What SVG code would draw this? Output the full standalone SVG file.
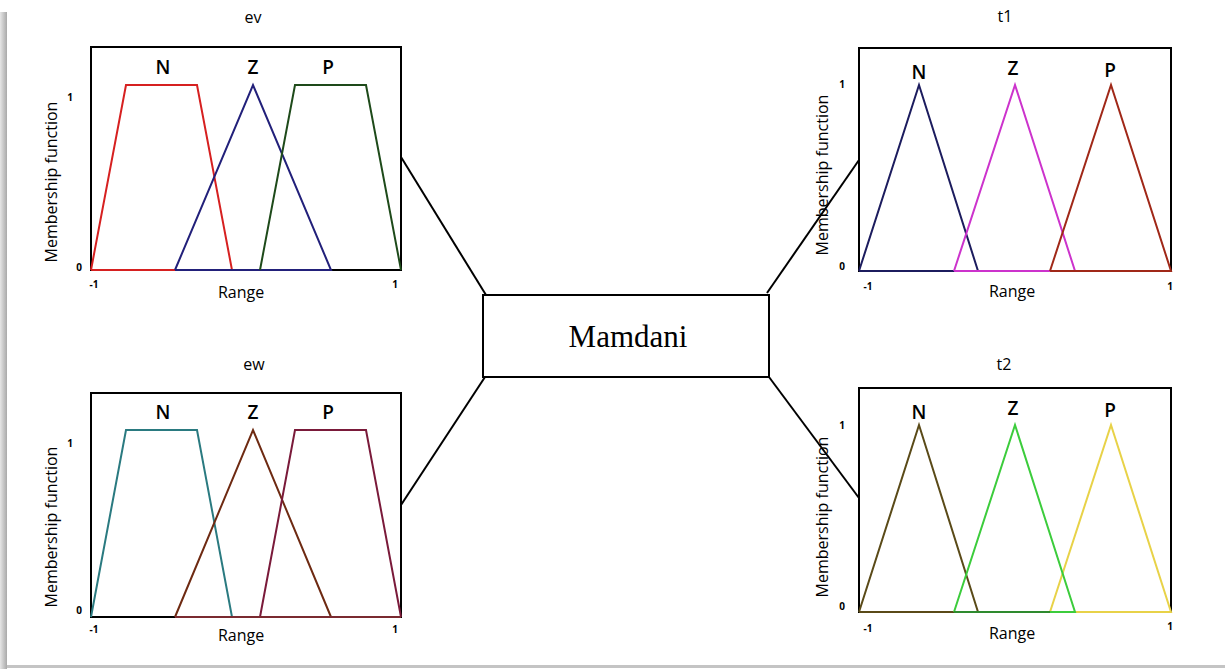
<svg xmlns="http://www.w3.org/2000/svg" width="1225" height="669" viewBox="0 0 1225 669">
  <defs>
    <linearGradient id="edgeShade" x1="0" y1="0" x2="1" y2="0">
      <stop offset="0" stop-color="#e6e6e6"/>
      <stop offset="1" stop-color="#a9a9a9"/>
    </linearGradient>
    <style>
      .frame { fill: none; stroke: #000; stroke-width: 2; }
      .mf { fill: none; stroke-width: 2; stroke-linejoin: miter; }
      .title { font-family: "Open Sans", "Liberation Sans", sans-serif; font-size: 16px; fill: #000; text-anchor: middle; }
      .term { font-family: "Open Sans", "Liberation Sans", sans-serif; font-size: 19px; font-weight: 600; fill: #000; text-anchor: middle; }
      .axis { font-family: "Open Sans", "Liberation Sans", sans-serif; font-size: 16px; fill: #000; text-anchor: middle; }
      .tick { font-family: "Open Sans", "Liberation Sans", sans-serif; font-size: 10px; font-weight: 700; fill: #000; text-anchor: middle; }
      .link { stroke: #000; stroke-width: 2; fill: none; }
      .core { fill: #fff; stroke: #000; stroke-width: 2; }
      .coreText { font-family: "Liberation Serif", "Times New Roman", serif; font-size: 31px; fill: #000; text-anchor: middle; }
    </style>
  </defs>

  <rect width="1225" height="669" fill="#fff"/>
  <!-- page edge shading -->
  <rect x="0" y="12" width="7" height="657" fill="url(#edgeShade)"/>
  <rect x="7" y="665" width="1218" height="3" fill="#c4c4c4"/>

  <!-- connectors -->
  <g id="connectors">
    <line class="link" x1="401" y1="157" x2="486" y2="295"/>
    <line class="link" x1="401" y1="505" x2="485" y2="377"/>
    <line class="link" x1="767" y1="293" x2="859" y2="160"/>
    <line class="link" x1="769" y1="377" x2="859" y2="498"/>
  </g>

  <!-- inference block -->
  <g id="mamdani">
    <rect class="core" x="483" y="295" width="286" height="82"/>
    <text class="coreText" x="628" y="347">Mamdani</text>
  </g>

  <!-- input ev -->
  <g id="ev">
    <text class="title" x="253" y="23">ev</text>
    <rect class="frame" x="91" y="47" width="310" height="223"/>
    <polyline class="mf" stroke="#d62020" points="91,270 126,85 197,85 232,270 91,270"/>
    <polyline class="mf" stroke="#22207a" points="175,270 253,85 331,270 175,270"/>
    <polyline class="mf" stroke="#1e4a1a" points="260,270 295,85 366,85 401,270"/>
    <text class="term" x="163" y="74">N</text>
    <text class="term" x="253" y="74">Z</text>
    <text class="term" x="328" y="74">P</text>
    <text class="tick" x="70" y="101">1</text>
    <text class="tick" x="79" y="271">0</text>
    <text class="tick" x="94" y="288">-1</text>
    <text class="tick" x="395" y="288">1</text>
    <text class="axis" x="241" y="298">Range</text>
    <text class="axis" transform="translate(57,182) rotate(-90)">Membership function</text>
  </g>

  <!-- input ew -->
  <g id="ew">
    <text class="title" x="254" y="370">ew</text>
    <rect class="frame" x="91" y="393" width="310" height="224"/>
    <polyline class="mf" stroke="#2a7a80" points="91,617 126,430 197,430 232,617"/>
    <polyline class="mf" stroke="#6e2a12" points="175,617 253,430 331,617"/>
    <polyline class="mf" stroke="#7a1a3a" points="260,617 295,430 366,430 401,617"/>
    <polyline class="mf" stroke="#7a2a30" points="175,617 401,617"/>
    <text class="term" x="163" y="419">N</text>
    <text class="term" x="253" y="419">Z</text>
    <text class="term" x="328" y="419">P</text>
    <text class="tick" x="70" y="447">1</text>
    <text class="tick" x="79" y="614">0</text>
    <text class="tick" x="94" y="633">-1</text>
    <text class="tick" x="395" y="633">1</text>
    <text class="axis" x="241" y="641">Range</text>
    <text class="axis" transform="translate(57,527) rotate(-90)">Membership function</text>
  </g>

  <!-- output t1 -->
  <g id="t1">
    <text class="title" x="1005" y="22">t1</text>
    <rect class="frame" x="859" y="48" width="312" height="223"/>
    <polyline class="mf" stroke="#1c1c5e" points="859,271 919,85 978,271 859,271"/>
    <polyline class="mf" stroke="#cc33cc" points="954,271 1015,85 1075,271 954,271"/>
    <polyline class="mf" stroke="#a02818" points="1050,271 1111,85 1171,271 1050,271"/>
    <text class="term" x="919" y="79">N</text>
    <text class="term" x="1013" y="75">Z</text>
    <text class="term" x="1110" y="77">P</text>
    <text class="tick" x="842" y="88">1</text>
    <text class="tick" x="842" y="270">0</text>
    <text class="tick" x="868" y="290">-1</text>
    <text class="tick" x="1170" y="290">1</text>
    <text class="axis" x="1012" y="297">Range</text>
    <text class="axis" transform="translate(828,175) rotate(-90)">Membership function</text>
  </g>

  <!-- output t2 -->
  <g id="t2">
    <text class="title" x="1004" y="370">t2</text>
    <rect class="frame" x="859" y="388" width="312" height="224"/>
    <polyline class="mf" stroke="#5a4a18" points="859,612 919,425 978,612 859,612"/>
    <polyline class="mf" stroke="#e8d248" points="1050,612 1111,425 1171,612 1050,612"/>
    <polyline class="mf" stroke="#3ccc3c" points="954,612 1015,425 1075,612 954,612"/>
    <polyline class="mf" stroke="#2e8a2e" points="954,612 1050,612"/>
    <text class="term" x="919" y="419">N</text>
    <text class="term" x="1013" y="415">Z</text>
    <text class="term" x="1110" y="417">P</text>
    <text class="tick" x="842" y="429">1</text>
    <text class="tick" x="842" y="610">0</text>
    <text class="tick" x="868" y="632">-1</text>
    <text class="tick" x="1170" y="630">1</text>
    <text class="axis" x="1012" y="639">Range</text>
    <text class="axis" transform="translate(828,517) rotate(-90)">Membership function</text>
  </g>
</svg>
